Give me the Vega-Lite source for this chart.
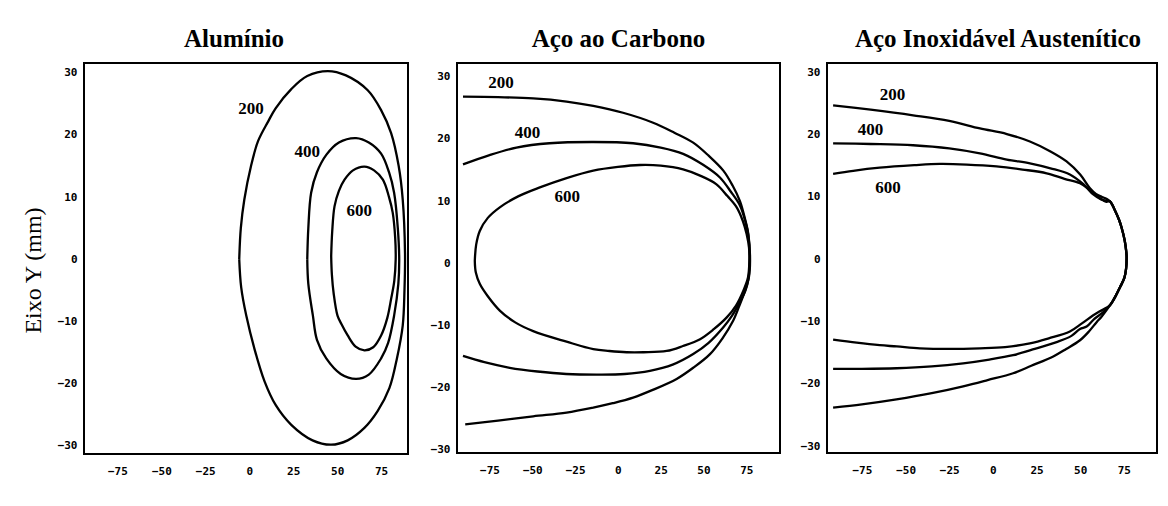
{
  "$schema": "https://vega.github.io/schema/vega-lite/v6.json",
  "background": "white",
  "padding": {"left": 20, "top": 26, "right": 5, "bottom": 5},
  "spacing": 18,
  "datasets": {
    "al": [
      {"c":"200","i":0,"x":-5.7,"y":0},{"c":"200","i":1,"x":-4.8,"y":5},{"c":"200","i":2,"x":-2.8,"y":9.6},{"c":"200","i":3,"x":1,"y":15},{"c":"200","i":4,"x":5,"y":19},{"c":"200","i":5,"x":10.8,"y":22.2},{"c":"200","i":6,"x":15,"y":24.3},{"c":"200","i":7,"x":23.9,"y":27.4},{"c":"200","i":8,"x":33,"y":29.5},{"c":"200","i":9,"x":44.7,"y":30.3},{"c":"200","i":10,"x":55,"y":29.6},{"c":"200","i":11,"x":67.4,"y":27.2},{"c":"200","i":12,"x":75,"y":24},{"c":"200","i":13,"x":80.7,"y":20.3},{"c":"200","i":14,"x":85,"y":15},{"c":"200","i":15,"x":87.3,"y":9.6},{"c":"200","i":16,"x":88.6,"y":1},{"c":"200","i":17,"x":88.3,"y":-5},{"c":"200","i":18,"x":87.3,"y":-10.7},{"c":"200","i":19,"x":84,"y":-16},{"c":"200","i":20,"x":79.7,"y":-20.8},{"c":"200","i":21,"x":73,"y":-24.5},{"c":"200","i":22,"x":65.5,"y":-27.2},{"c":"200","i":23,"x":56,"y":-29.2},{"c":"200","i":24,"x":46.6,"y":-29.9},{"c":"200","i":25,"x":36,"y":-29.2},{"c":"200","i":26,"x":23.9,"y":-26.7},{"c":"200","i":27,"x":15,"y":-23.5},{"c":"200","i":28,"x":8.7,"y":-19.7},{"c":"200","i":29,"x":3,"y":-14.5},{"c":"200","i":30,"x":-1.7,"y":-9.1},{"c":"200","i":31,"x":-4.6,"y":-4.5},{"c":"200","i":32,"x":-5.7,"y":0},
      {"c":"400","i":0,"x":33,"y":0},{"c":"400","i":1,"x":33.6,"y":5},{"c":"400","i":2,"x":35.2,"y":10.7},{"c":"400","i":3,"x":38.5,"y":14},{"c":"400","i":4,"x":43.8,"y":16.8},{"c":"400","i":5,"x":51,"y":18.8},{"c":"400","i":6,"x":60.8,"y":19.5},{"c":"400","i":7,"x":68,"y":18.8},{"c":"400","i":8,"x":75,"y":17},{"c":"400","i":9,"x":79.5,"y":14},{"c":"400","i":10,"x":82.4,"y":10.7},{"c":"400","i":11,"x":84.5,"y":5},{"c":"400","i":12,"x":85.3,"y":0},{"c":"400","i":13,"x":84.8,"y":-4},{"c":"400","i":14,"x":82.4,"y":-9.1},{"c":"400","i":15,"x":79,"y":-13.5},{"c":"400","i":16,"x":75,"y":-16},{"c":"400","i":17,"x":68,"y":-18.6},{"c":"400","i":18,"x":60.8,"y":-19.3},{"c":"400","i":19,"x":52,"y":-18.5},{"c":"400","i":20,"x":43.8,"y":-16},{"c":"400","i":21,"x":38.5,"y":-13},{"c":"400","i":22,"x":36.2,"y":-9.1},{"c":"400","i":23,"x":33.6,"y":-4},{"c":"400","i":24,"x":33,"y":0},
      {"c":"600","i":0,"x":46.6,"y":0.5},{"c":"600","i":1,"x":47.2,"y":4.5},{"c":"600","i":2,"x":48.5,"y":8.5},{"c":"600","i":3,"x":51,"y":11},{"c":"600","i":4,"x":54.2,"y":12.8},{"c":"600","i":5,"x":59,"y":14.3},{"c":"600","i":6,"x":65.5,"y":14.9},{"c":"600","i":7,"x":71,"y":14.3},{"c":"600","i":8,"x":76,"y":12.8},{"c":"600","i":9,"x":79.5,"y":10},{"c":"600","i":10,"x":81.6,"y":7.5},{"c":"600","i":11,"x":83,"y":3.5},{"c":"600","i":12,"x":83.3,"y":0},{"c":"600","i":13,"x":82.5,"y":-3.5},{"c":"600","i":14,"x":80.7,"y":-6.4},{"c":"600","i":15,"x":78.5,"y":-9.5},{"c":"600","i":16,"x":75,"y":-12.3},{"c":"600","i":17,"x":70.5,"y":-14.2},{"c":"600","i":18,"x":65.5,"y":-14.7},{"c":"600","i":19,"x":60.5,"y":-14.1},{"c":"600","i":20,"x":56,"y":-12.3},{"c":"600","i":21,"x":52.5,"y":-10.5},{"c":"600","i":22,"x":50.2,"y":-9.1},{"c":"600","i":23,"x":48,"y":-5.5},{"c":"600","i":24,"x":47,"y":-2.5},{"c":"600","i":25,"x":46.6,"y":0.5}
    ],
    "al_lab": [
      {"t":"200","x":1,"y":24.2},{"t":"400","x":33,"y":17.3},{"t":"600","x":62.5,"y":7.8}
    ],
    "cs": [
      {"c":"200","i":0,"x":-90.5,"y":26.8},{"c":"200","i":1,"x":-70,"y":26.7},{"c":"200","i":2,"x":-49.5,"y":26.5},{"c":"200","i":3,"x":-30,"y":26},{"c":"200","i":4,"x":-14.4,"y":25.3},{"c":"200","i":5,"x":3,"y":24.2},{"c":"200","i":6,"x":20.6,"y":22.6},{"c":"200","i":7,"x":33,"y":21},{"c":"200","i":8,"x":44,"y":19.4},{"c":"200","i":9,"x":53,"y":17.3},{"c":"200","i":10,"x":61.6,"y":14.9},{"c":"200","i":11,"x":67,"y":12.5},{"c":"200","i":12,"x":71.3,"y":10},{"c":"200","i":13,"x":74.2,"y":7.2},{"c":"200","i":14,"x":76.2,"y":4.7},{"c":"200","i":15,"x":77.2,"y":0.4},{"c":"200","i":16,"x":76.5,"y":-2.3},{"c":"200","i":17,"x":74.3,"y":-4.4},{"c":"200","i":18,"x":71,"y":-6.8},{"c":"200","i":19,"x":67.4,"y":-9.2},{"c":"200","i":20,"x":61,"y":-12.1},{"c":"200","i":21,"x":53.8,"y":-14.6},{"c":"200","i":22,"x":44,"y":-16.8},{"c":"200","i":23,"x":34.3,"y":-18.6},{"c":"200","i":24,"x":20,"y":-20.4},{"c":"200","i":25,"x":8.9,"y":-21.6},{"c":"200","i":26,"x":-3,"y":-22.5},{"c":"200","i":27,"x":-14.4,"y":-23.2},{"c":"200","i":28,"x":-30,"y":-24},{"c":"200","i":29,"x":-49.5,"y":-24.6},{"c":"200","i":30,"x":-70,"y":-25.3},{"c":"200","i":31,"x":-89.2,"y":-25.9},
      {"c":"400","i":0,"x":-90.5,"y":15.9},{"c":"400","i":1,"x":-75,"y":17.4},{"c":"400","i":2,"x":-59.3,"y":18.6},{"c":"400","i":3,"x":-40,"y":19.3},{"c":"400","i":4,"x":-14.4,"y":19.5},{"c":"400","i":5,"x":8.9,"y":19.3},{"c":"400","i":6,"x":25,"y":18.6},{"c":"400","i":7,"x":38.1,"y":17.6},{"c":"400","i":8,"x":50,"y":15.8},{"c":"400","i":9,"x":59.6,"y":13.8},{"c":"400","i":10,"x":66,"y":11.5},{"c":"400","i":11,"x":71.3,"y":9.3},{"c":"400","i":12,"x":74.5,"y":6.7},{"c":"400","i":13,"x":76.2,"y":4.5},{"c":"400","i":14,"x":77,"y":1},{"c":"400","i":15,"x":76.3,"y":-2.4},{"c":"400","i":16,"x":74.5,"y":-4.4},{"c":"400","i":17,"x":71.3,"y":-6.2},{"c":"400","i":18,"x":66.5,"y":-8.5},{"c":"400","i":19,"x":61.6,"y":-10.3},{"c":"400","i":20,"x":53,"y":-12.8},{"c":"400","i":21,"x":44,"y":-14.6},{"c":"400","i":22,"x":32,"y":-16.3},{"c":"400","i":23,"x":18.7,"y":-17.3},{"c":"400","i":24,"x":4,"y":-17.8},{"c":"400","i":25,"x":-10.5,"y":-17.9},{"c":"400","i":26,"x":-30.2,"y":-17.8},{"c":"400","i":27,"x":-47,"y":-17.4},{"c":"400","i":28,"x":-63.2,"y":-16.8},{"c":"400","i":29,"x":-78,"y":-15.9},{"c":"400","i":30,"x":-90.5,"y":-14.9},
      {"c":"600","i":0,"x":-83.6,"y":0.4},{"c":"600","i":1,"x":-82.8,"y":3},{"c":"600","i":2,"x":-80.7,"y":5.2},{"c":"600","i":3,"x":-76,"y":7.3},{"c":"600","i":4,"x":-69,"y":9},{"c":"600","i":5,"x":-58,"y":10.8},{"c":"600","i":6,"x":-45.6,"y":12.2},{"c":"600","i":7,"x":-30,"y":13.7},{"c":"600","i":8,"x":-14.4,"y":14.9},{"c":"600","i":9,"x":0,"y":15.5},{"c":"600","i":10,"x":12.9,"y":15.8},{"c":"600","i":11,"x":25,"y":15.7},{"c":"600","i":12,"x":38.1,"y":15.1},{"c":"600","i":13,"x":48,"y":14.1},{"c":"600","i":14,"x":57.6,"y":12.7},{"c":"600","i":15,"x":64,"y":10.8},{"c":"600","i":16,"x":69.4,"y":9},{"c":"600","i":17,"x":73,"y":6.8},{"c":"600","i":18,"x":75.2,"y":4.7},{"c":"600","i":19,"x":76.6,"y":2.5},{"c":"600","i":20,"x":76.8,"y":0.4},{"c":"600","i":21,"x":76,"y":-2.3},{"c":"600","i":22,"x":73.3,"y":-4.4},{"c":"600","i":23,"x":69,"y":-6.8},{"c":"600","i":24,"x":63.6,"y":-8.7},{"c":"600","i":25,"x":56,"y":-10.6},{"c":"600","i":26,"x":48,"y":-12.2},{"c":"600","i":27,"x":38,"y":-13.3},{"c":"600","i":28,"x":28.5,"y":-14.1},{"c":"600","i":29,"x":15,"y":-14.3},{"c":"600","i":30,"x":5.1,"y":-14.3},{"c":"600","i":31,"x":-5,"y":-14.1},{"c":"600","i":32,"x":-14.4,"y":-13.8},{"c":"600","i":33,"x":-30,"y":-12.6},{"c":"600","i":34,"x":-49.5,"y":-10.9},{"c":"600","i":35,"x":-60,"y":-9.5},{"c":"600","i":36,"x":-69,"y":-7.6},{"c":"600","i":37,"x":-76,"y":-5.3},{"c":"600","i":38,"x":-80.7,"y":-3.3},{"c":"600","i":39,"x":-83,"y":-1.5},{"c":"600","i":40,"x":-83.6,"y":0.4}
    ],
    "cs_lab": [
      {"t":"200","x":-68.3,"y":29},{"t":"400","x":-52.8,"y":20.9},{"t":"600","x":-29.6,"y":10.7}
    ],
    "ss": [
      {"c":"200","i":0,"x":-91.5,"y":24.7},{"c":"200","i":1,"x":-70,"y":24},{"c":"200","i":2,"x":-45.7,"y":23.1},{"c":"200","i":3,"x":-25,"y":22.2},{"c":"200","i":4,"x":-7.4,"y":21},{"c":"200","i":5,"x":8,"y":20.1},{"c":"200","i":6,"x":21.2,"y":18.9},{"c":"200","i":7,"x":33,"y":17.3},{"c":"200","i":8,"x":42.2,"y":15.7},{"c":"200","i":9,"x":50,"y":13.6},{"c":"200","i":10,"x":55.6,"y":11.4},{"c":"200","i":11,"x":59,"y":10.5},{"c":"200","i":12,"x":62.5,"y":10},{"c":"200","i":13,"x":65,"y":9.7},
      {"c":"200","i":14,"x":67,"y":9.3},{"c":"200","i":15,"x":70,"y":7.8},{"c":"200","i":16,"x":72.3,"y":6.3},{"c":"200","i":17,"x":73.7,"y":5.1},{"c":"200","i":18,"x":75.5,"y":3},{"c":"200","i":19,"x":76.4,"y":1.2},{"c":"200","i":20,"x":76.6,"y":0.3},{"c":"200","i":21,"x":76.3,"y":-1.5},{"c":"200","i":22,"x":75.3,"y":-3},{"c":"200","i":23,"x":72.8,"y":-4.5},{"c":"200","i":24,"x":70.5,"y":-5.8},{"c":"200","i":25,"x":68.5,"y":-6.8},{"c":"200","i":26,"x":67,"y":-7.4},
      {"c":"200","i":27,"x":65,"y":-8.2},{"c":"200","i":28,"x":62,"y":-9.3},{"c":"200","i":29,"x":59.4,"y":-10.1},{"c":"200","i":30,"x":55,"y":-11.6},{"c":"200","i":31,"x":49.9,"y":-13},{"c":"200","i":32,"x":42,"y":-14.4},{"c":"200","i":33,"x":34.6,"y":-15.6},{"c":"200","i":34,"x":22,"y":-17.1},{"c":"200","i":35,"x":11.6,"y":-18.3},{"c":"200","i":36,"x":-3,"y":-19.4},{"c":"200","i":37,"x":-17,"y":-20.4},{"c":"200","i":38,"x":-35,"y":-21.5},{"c":"200","i":39,"x":-55.2,"y":-22.5},{"c":"200","i":40,"x":-75,"y":-23.3},{"c":"200","i":41,"x":-91.5,"y":-23.8},
      {"c":"400","i":0,"x":-91.5,"y":18.6},{"c":"400","i":1,"x":-70,"y":18.5},{"c":"400","i":2,"x":-45.7,"y":18.3},{"c":"400","i":3,"x":-25,"y":17.8},{"c":"400","i":4,"x":-7.4,"y":17},{"c":"400","i":5,"x":8,"y":16},{"c":"400","i":6,"x":21.2,"y":15.4},{"c":"400","i":7,"x":33,"y":14.6},{"c":"400","i":8,"x":44.1,"y":13.6},{"c":"400","i":9,"x":52,"y":12},{"c":"400","i":10,"x":57.5,"y":10.4},{"c":"400","i":11,"x":62,"y":9.6},{"c":"400","i":12,"x":65,"y":9.4},
      {"c":"400","i":13,"x":67,"y":9.3},{"c":"400","i":14,"x":70,"y":7.8},{"c":"400","i":15,"x":72.3,"y":6.3},{"c":"400","i":16,"x":73.7,"y":5.1},{"c":"400","i":17,"x":75.5,"y":3},{"c":"400","i":18,"x":76.4,"y":1.2},{"c":"400","i":19,"x":76.6,"y":0.3},{"c":"400","i":20,"x":76.3,"y":-1.5},{"c":"400","i":21,"x":75.3,"y":-3},{"c":"400","i":22,"x":72.8,"y":-4.5},{"c":"400","i":23,"x":70.5,"y":-5.8},{"c":"400","i":24,"x":68.5,"y":-6.8},{"c":"400","i":25,"x":67,"y":-7.4},
      {"c":"400","i":26,"x":65,"y":-8},{"c":"400","i":27,"x":63.2,"y":-8.5},{"c":"400","i":28,"x":58,"y":-9.6},{"c":"400","i":29,"x":53.7,"y":-10.8},{"c":"400","i":30,"x":49.9,"y":-11.2},{"c":"400","i":31,"x":45,"y":-12.3},{"c":"400","i":32,"x":36.5,"y":-13.3},{"c":"400","i":33,"x":24,"y":-14.4},{"c":"400","i":34,"x":11.6,"y":-15.4},{"c":"400","i":35,"x":-2,"y":-16.1},{"c":"400","i":36,"x":-17,"y":-16.7},{"c":"400","i":37,"x":-35,"y":-17.2},{"c":"400","i":38,"x":-55.2,"y":-17.5},{"c":"400","i":39,"x":-75,"y":-17.6},{"c":"400","i":40,"x":-91.5,"y":-17.6},
      {"c":"600","i":0,"x":-91.5,"y":13.7},{"c":"600","i":1,"x":-80,"y":14.2},{"c":"600","i":2,"x":-64.8,"y":14.7},{"c":"600","i":3,"x":-45,"y":15.1},{"c":"600","i":4,"x":-30.4,"y":15.3},{"c":"600","i":5,"x":-15,"y":15.2},{"c":"600","i":6,"x":2.1,"y":14.9},{"c":"600","i":7,"x":17,"y":14.4},{"c":"600","i":8,"x":30.8,"y":13.8},{"c":"600","i":9,"x":41,"y":12.9},{"c":"600","i":10,"x":49.9,"y":12.2},{"c":"600","i":11,"x":56,"y":11},{"c":"600","i":12,"x":61.3,"y":9.8},{"c":"600","i":13,"x":65,"y":9.2},
      {"c":"600","i":14,"x":67,"y":9.3},{"c":"600","i":15,"x":70,"y":7.8},{"c":"600","i":16,"x":72.3,"y":6.3},{"c":"600","i":17,"x":73.7,"y":5.1},{"c":"600","i":18,"x":75.5,"y":3},{"c":"600","i":19,"x":76.4,"y":1.2},{"c":"600","i":20,"x":76.6,"y":0.3},{"c":"600","i":21,"x":76.3,"y":-1.5},{"c":"600","i":22,"x":75.3,"y":-3},{"c":"600","i":23,"x":72.8,"y":-4.5},{"c":"600","i":24,"x":70.5,"y":-5.8},{"c":"600","i":25,"x":68.5,"y":-6.8},{"c":"600","i":26,"x":67,"y":-7.4},
      {"c":"600","i":27,"x":65,"y":-7.8},{"c":"600","i":28,"x":61,"y":-8.4},{"c":"600","i":29,"x":57.5,"y":-9},{"c":"600","i":30,"x":51,"y":-10.3},{"c":"600","i":31,"x":44.1,"y":-11.6},{"c":"600","i":32,"x":32,"y":-12.7},{"c":"600","i":33,"x":21.2,"y":-13.5},{"c":"600","i":34,"x":7,"y":-14.1},{"c":"600","i":35,"x":-7.4,"y":-14.3},{"c":"600","i":36,"x":-25,"y":-14.4},{"c":"600","i":37,"x":-41.8,"y":-14.3},{"c":"600","i":38,"x":-55,"y":-14},{"c":"600","i":39,"x":-64.8,"y":-13.8},{"c":"600","i":40,"x":-78,"y":-13.4},{"c":"600","i":41,"x":-91.5,"y":-12.9}
    ],
    "ss_lab": [
      {"t":"200","x":-57.5,"y":26.3},{"t":"400","x":-70.1,"y":20.7},{"t":"600","x":-60,"y":11.4}
    ]
  },
  "hconcat": [
    {
      "width": 324, "height": 391,
      "title": {"text": "Alumínio", "dx": -12},
      "layer": [
        {
          "data": {"name": "al"},
          "mark": {"type": "line", "color": "black", "strokeWidth": 2.3, "interpolate": "catmull-rom"},
          "encoding": {
            "x": {"field": "x", "type": "quantitative", "scale": {"domain": [-94, 90.3], "nice": false, "zero": false},
                  "axis": {"title": null, "values": [-75, -50, -25, 0, 25, 50, 75]}},
            "y": {"field": "y", "type": "quantitative", "scale": {"domain": [-31.4, 31.6], "nice": false, "zero": false},
                  "axis": {"title": "Eixo Y (mm)", "values": [-30, -20, -10, 0, 10, 20, 30], "titleFont": "Liberation Serif", "titleFontSize": 24, "titleFontWeight": "normal", "titleColor": "black", "titlePadding": 12, "titleY": 207}},
            "detail": {"field": "c"},
            "order": {"field": "i", "type": "quantitative"}
          }
        },
        {
          "data": {"name": "al_lab"},
          "mark": {"type": "text", "font": "Liberation Serif", "fontSize": 17, "fontWeight": "bold", "color": "black"},
          "encoding": {
            "x": {"field": "x", "type": "quantitative"},
            "y": {"field": "y", "type": "quantitative"},
            "text": {"field": "t"}
          }
        }
      ]
    },
    {
      "width": 323, "height": 390,
      "title": {"text": "Aço ao Carbono"},
      "layer": [
        {
          "data": {"name": "cs"},
          "mark": {"type": "line", "color": "black", "strokeWidth": 2.3, "interpolate": "catmull-rom"},
          "encoding": {
            "x": {"field": "x", "type": "quantitative", "scale": {"domain": [-94, 94.7], "nice": false, "zero": false},
                  "axis": {"title": null, "values": [-75, -50, -25, 0, 25, 50, 75]}},
            "y": {"field": "y", "type": "quantitative", "scale": {"domain": [-30.5, 32.2], "nice": false, "zero": false},
                  "axis": {"title": null, "values": [-30, -20, -10, 0, 10, 20, 30]}},
            "detail": {"field": "c"},
            "order": {"field": "i", "type": "quantitative"}
          }
        },
        {
          "data": {"name": "cs_lab"},
          "mark": {"type": "text", "font": "Liberation Serif", "fontSize": 17, "fontWeight": "bold", "color": "black"},
          "encoding": {
            "x": {"field": "x", "type": "quantitative"},
            "y": {"field": "y", "type": "quantitative"},
            "text": {"field": "t"}
          }
        }
      ]
    },
    {
      "width": 330, "height": 390,
      "title": {"text": "Aço Inoxidável Austenítico", "dx": 6},
      "layer": [
        {
          "data": {"name": "ss"},
          "mark": {"type": "line", "color": "black", "strokeWidth": 2.3, "interpolate": "catmull-rom"},
          "encoding": {
            "x": {"field": "x", "type": "quantitative", "scale": {"domain": [-95, 94], "nice": false, "zero": false},
                  "axis": {"title": null, "values": [-75, -50, -25, 0, 25, 50, 75]}},
            "y": {"field": "y", "type": "quantitative", "scale": {"domain": [-31.1, 31.5], "nice": false, "zero": false},
                  "axis": {"title": null, "values": [-30, -20, -10, 0, 10, 20, 30]}},
            "detail": {"field": "c"},
            "order": {"field": "i", "type": "quantitative"}
          }
        },
        {
          "data": {"name": "ss_lab"},
          "mark": {"type": "text", "font": "Liberation Serif", "fontSize": 17, "fontWeight": "bold", "color": "black"},
          "encoding": {
            "x": {"field": "x", "type": "quantitative"},
            "y": {"field": "y", "type": "quantitative"},
            "text": {"field": "t"}
          }
        }
      ]
    }
  ],
  "config": {
    "view": {"stroke": "black", "strokeWidth": 2},
    "axis": {"grid": false, "domain": false, "ticks": false, "labelFont": "DejaVu Sans Mono", "labelFontWeight": "bold", "labelFontSize": 11, "labelColor": "black"},
    "axisX": {"labelPadding": 11},
    "axisY": {"labelPadding": 7},
    "title": {"font": "Liberation Serif", "fontSize": 25, "fontWeight": "bold", "color": "black", "offset": 11}
  }
}
